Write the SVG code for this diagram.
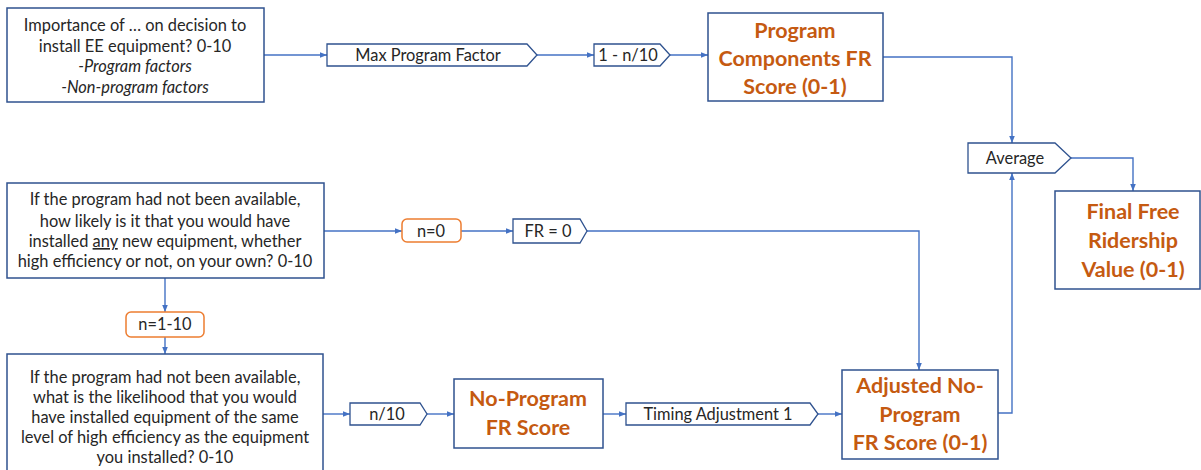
<svg xmlns="http://www.w3.org/2000/svg" width="1201" height="470" viewBox="0 0 1201 470">
<defs>
<marker id="arr" viewBox="0 0 10 10" refX="10" refY="5" markerWidth="7" markerHeight="7" markerUnits="userSpaceOnUse" orient="auto">
<path d="M0,1 L10,5 L0,9 z" fill="#4472C4"/>
</marker>
</defs>
<style>
.box{fill:#fff;stroke:#2F528F;stroke-width:1.5}
.tag{fill:#fff;stroke:#2F528F;stroke-width:1.3}
.cond{fill:#fff;stroke:#ED7D31;stroke-width:1.5}
.t{font-family:Lato,"Liberation Sans",sans-serif;font-size:16.4px;fill:#262626;text-anchor:middle}
.i{font-style:italic}
.b{font-family:Lato,"Liberation Sans",sans-serif;font-size:21.5px;font-weight:bold;fill:#C55A11;text-anchor:middle}
.c{fill:none;stroke:#4472C4;stroke-width:1.4;marker-end:url(#arr)}
</style>
<rect width="1201" height="470" fill="#fff"/>
<g id="connectors">
<path class="c" d="M264,55 H327"/>
<path class="c" d="M537,55 H594"/>
<path class="c" d="M670,55 H708"/>
<path class="c" d="M883,57 H1012 V143"/>
<path class="c" d="M1071,158 H1133 V191"/>
<path class="c" d="M998,413 H1012 V173"/>
<path class="c" d="M324,231 H402"/>
<path class="c" d="M461,231 H513"/>
<path class="c" d="M587,231 H919 V370"/>
<path class="c" d="M165,278 V312"/>
<path class="c" d="M165,337 V354"/>
<path class="c" d="M323,414 H350"/>
<path class="c" d="M427,414 H454"/>
<path class="c" d="M603,414 H626"/>
<path class="c" d="M818,414 H842"/>
</g>
<g id="importance">
<rect class="box" x="7" y="8" width="257" height="94"/>
<text class="t" x="135" y="31">Importance of … on decision to</text>
<text class="t" x="135" y="52">install EE equipment? 0-10</text>
<text class="t i" x="135" y="72">-Program factors</text>
<text class="t i" x="135" y="93">-Non-program factors</text>
</g>
<g id="max-program-factor">
<path class="tag" d="M327,44 H527 L537,55 L527,66 H327 z"/>
<text class="t" x="428" y="61">Max Program Factor</text>
</g>
<g id="one-minus">
<path class="tag" d="M594,44 H660 L670,55 L660,66 H594 z"/>
<text class="t" x="628" y="61">1 - n/10</text>
</g>
<g id="program-components">
<rect class="box" x="708" y="13" width="175" height="88"/>
<text class="b" x="795" y="38">Program</text>
<text class="b" x="795" y="66">Components FR</text>
<text class="b" x="795" y="94">Score (0-1)</text>
</g>
<g id="average">
<path class="tag" d="M968,143 H1055 L1071,158 L1055,173 H968 z"/>
<text class="t" x="1015" y="164">Average</text>
</g>
<g id="final">
<rect class="box" x="1055" y="191" width="145" height="98"/>
<text class="b" x="1133" y="219">Final Free</text>
<text class="b" x="1133" y="248">Ridership</text>
<text class="b" x="1133" y="277">Value (0-1)</text>
</g>
<g id="q-any">
<rect class="box" x="7" y="183" width="317" height="95"/>
<text class="t" x="165" y="205">If the program had not been available,</text>
<text class="t" x="165" y="227">how likely is it that you would have</text>
<text class="t" x="165" y="247">installed <tspan text-decoration="underline">any</tspan> new equipment, whether</text>
<text class="t" x="165" y="267">high efficiency or not, on your own? 0-10</text>
</g>
<g id="n0">
<rect class="cond" x="402" y="219" width="59" height="23" rx="5"/>
<text class="t" x="431" y="237">n=0</text>
</g>
<g id="fr0">
<path class="tag" d="M513,219 H580 L587,231 L580,243 H513 z"/>
<text class="t" x="548" y="237">FR = 0</text>
</g>
<g id="n1-10">
<rect class="cond" x="126" y="312" width="78" height="25" rx="5"/>
<text class="t" x="165" y="330">n=1-10</text>
</g>
<g id="q-same">
<rect class="box" x="7" y="354" width="316" height="125"/>
<text class="t" x="165" y="383">If the program had not been available,</text>
<text class="t" x="165" y="403">what is the likelihood that you would</text>
<text class="t" x="165" y="423">have installed equipment of the same</text>
<text class="t" x="165" y="443">level of high efficiency as the equipment</text>
<text class="t" x="165" y="463">you installed? 0-10</text>
</g>
<g id="n-over-10">
<path class="tag" d="M350,403 H420 L427,414 L420,425 H350 z"/>
<text class="t" x="387" y="420">n/10</text>
</g>
<g id="no-program">
<rect class="box" x="454" y="379" width="149" height="69"/>
<text class="b" x="528" y="406">No-Program</text>
<text class="b" x="528" y="435">FR Score</text>
</g>
<g id="timing">
<path class="tag" d="M626,403 H810 L818,414 L810,425 H626 z"/>
<text class="t" x="718" y="420">Timing Adjustment 1</text>
</g>
<g id="adjusted">
<rect class="box" x="842" y="370" width="156" height="89"/>
<text class="b" x="920" y="393">Adjusted No-</text>
<text class="b" x="920" y="422">Program</text>
<text class="b" x="920" y="450">FR Score (0-1)</text>
</g>
</svg>
